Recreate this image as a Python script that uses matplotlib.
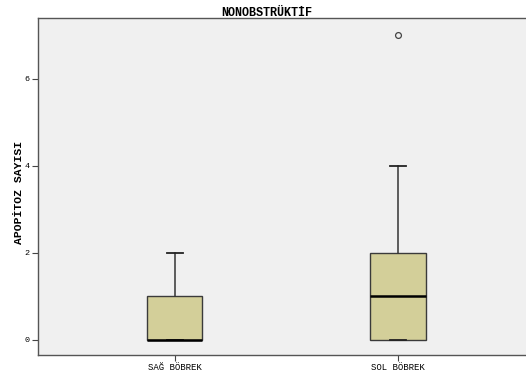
import matplotlib
matplotlib.use('Agg')
import matplotlib.pyplot as plt

# box statistics
groups = ['SAĞ BÖBREK', 'SOL BÖBREK']
q1 = [0, 0]
med = [0, 1]
q3 = [1, 2]
whislo = [0, 0]
whishi = [2, 4]
fliers = [[], [7]]
yticks = [0, 2, 4, 6]

stats = [dict(label=g, q1=a, med=m, q3=b, whislo=lo, whishi=hi, fliers=f)
         for g, a, m, b, lo, hi, f in zip(groups, q1, med, q3, whislo, whishi, fliers)]

fig = plt.figure(figsize=(5.26, 3.79), dpi=100)
ax = fig.add_axes([38/526, 24/379, 1 - 38/526, (355-18)/379])
ax.set_facecolor('#f0f0f0')

ax.bxp(stats, positions=[1, 2], widths=0.247, patch_artist=True,
       boxprops=dict(facecolor='#d3cf99', edgecolor='#3a3a3a', linewidth=1.0),
       medianprops=dict(color='black', linewidth=1.8),
       whiskerprops=dict(color='#333333', linewidth=1.1),
       capprops=dict(color='#222222', linewidth=1.3),
       flierprops=dict(marker='o', markersize=4.2, markerfacecolor='none',
                       markeredgecolor='#444444', markeredgewidth=0.9),
       capwidths=0.068)

ax.set_xlim(0.386, 2.574)
ax.set_ylim(-0.345, 7.4)
ax.set_yticks(yticks)
ax.set_yticklabels([str(t) for t in yticks], fontsize=6, family='Liberation Mono')
ax.set_xticks([1, 2])
ax.set_xticklabels(groups, fontsize=6.5, family='Liberation Mono')
ax.tick_params(colors='#444444', length=4, width=0.8, labelcolor='black')
ax.tick_params(axis='y', pad=2)
ax.tick_params(axis='x', pad=2)

for s in ['left', 'bottom', 'top']:
    ax.spines[s].set_color('#555555')
    ax.spines[s].set_linewidth(1.0)
ax.spines['right'].set_visible(False)

fig.text(267/526, 1 - 13/379, 'NONOBSTRÜKTİF', ha='center', va='center',
         fontsize=8.5, fontweight='bold', family='Liberation Mono')
fig.text(19/526, 1 - 192/379, 'APOPİTOZ SAYISI', ha='center', va='center',
         rotation=90, fontsize=8.2, fontweight='bold', family='Liberation Mono')

fig.savefig('out.png', dpi=100)
